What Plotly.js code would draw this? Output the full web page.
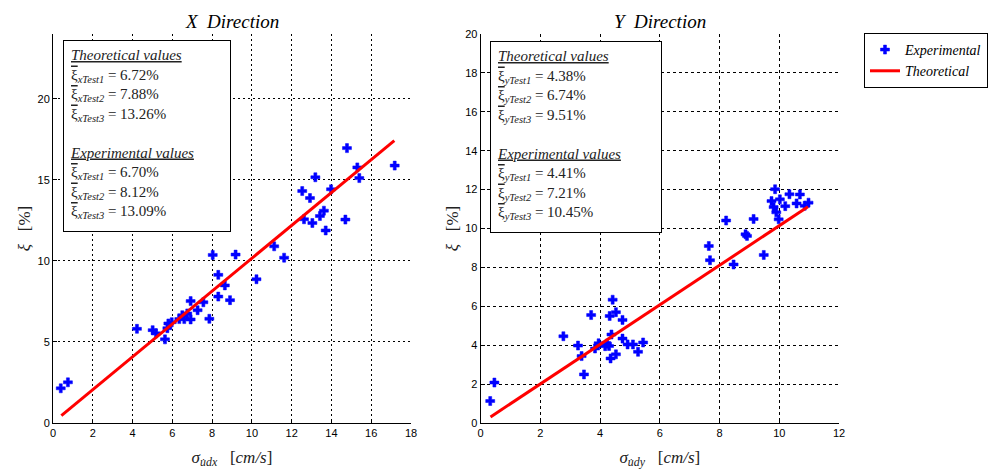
<!DOCTYPE html>
<html>
<head>
<meta charset="utf-8">
<script src="https://cdn.plot.ly/plotly-3.0.1.min.js"></script>
<style>html,body{margin:0;padding:0;background:#fff;}#chart{width:992px;height:471px;}</style>
</head>
<body>
<div id="chart"></div>
<script>
// X direction experimental points
const expXx = [0.39,0.75,4.22,5.01,5.18,5.63,5.75,5.80,5.97,6.35,6.50,6.60,6.75,6.92,6.92,7.27,7.56,7.86,8.03,8.31,8.31,8.64,8.90,9.18,10.23,11.12,11.62,12.53,12.62,12.92,13.04,13.19,13.42,13.62,13.71,13.98,14.70,14.78,15.30,15.40,17.18];
const expXy = [2.14,2.51,5.81,5.73,5.53,5.16,5.85,6.14,6.22,6.41,6.65,6.41,6.76,6.39,7.52,6.96,7.45,6.43,10.37,9.14,7.80,8.49,7.58,10.39,8.87,10.90,10.20,14.31,12.57,13.88,12.34,15.16,12.77,13.10,11.88,14.42,12.55,16.96,15.77,15.11,15.88];
// X direction theoretical line
const thXx = [0.42, 17.16];
const thXy = [0.45, 17.42];
// Y direction experimental points
const expYx = [0.32,0.46,2.77,3.26,3.38,3.46,3.70,3.83,3.95,4.17,4.23,4.30,4.32,4.35,4.38,4.42,4.53,4.53,4.75,4.75,4.92,5.10,5.27,5.44,7.64,7.68,8.22,8.47,8.87,8.92,9.14,9.48,9.74,9.81,9.86,9.90,9.98,10.02,10.20,10.34,10.58,10.69,10.85,10.98];
const expYy = [1.13,2.08,4.46,3.98,3.44,2.50,5.55,3.83,4.10,3.95,4.08,3.96,5.50,3.32,4.55,6.34,5.70,3.53,5.30,4.34,4.04,4.04,3.66,4.14,9.10,8.37,10.41,8.15,9.70,9.62,10.49,8.64,11.41,11.10,12.02,10.83,10.47,11.50,11.15,11.76,11.29,11.75,11.17,11.33];
// Y direction theoretical line
const thYx = [0.33, 10.96];
const thYy = [0.31, 11.12];
// Tick values
const xTicksL = [0,2,4,6,8,10,12,14,16,18];
const yTicksL = [0,5,10,15,20];
const xTicksR = [0,2,4,6,8,10,12];
const yTicksR = [0,2,4,6,8,10,12,14,16,18,20];
// Box texts
const theoX = ["6.72%","7.88%","13.26%"];
const experX = ["6.70%","8.12%","13.09%"];
const theoY = ["4.38%","6.74%","9.51%"];
const experY = ["4.41%","7.21%","10.45%"];

const serif = "Liberation Serif, Times New Roman, serif";
const sans = "Liberation Sans, Arial, sans-serif";

function boxText(dir, theo, exper){
  const ul = s => "<i><span style='text-decoration:underline'>" + s + "</span></i>";
  const line = (i, v) => "<span style='text-decoration:overline'>\u03BE</span><sub><i>" + dir + "Test" + (i+1) + "</i></sub> = " + v;
  let t = ul("Theoretical values") + "<br>";
  t += theo.map((v,i)=>line(i,v)).join("<br>");
  t += "<br> <br>" + ul("Experimental values") + "<br>";
  t += exper.map((v,i)=>line(i,v)).join("<br>");
  return t;
}

const mk = {symbol:'cross', size:7.5, color:'#0000ff', line:{width:0.5, color:'#0000ff'}};
const traces = [
  {x: expXx, y: expXy, type:'scatter', mode:'markers', marker:mk, name:'Experimental', xaxis:'x', yaxis:'y', showlegend:true},
  {x: thXx, y: thXy, type:'scatter', mode:'lines', line:{color:'#ff0000', width:3}, name:'Theoretical', xaxis:'x', yaxis:'y', showlegend:true},
  {x: expYx, y: expYy, type:'scatter', mode:'markers', marker:mk, name:'Experimental', xaxis:'x2', yaxis:'y2', showlegend:false},
  {x: thYx, y: thYy, type:'scatter', mode:'lines', line:{color:'#ff0000', width:3}, name:'Theoretical', xaxis:'x2', yaxis:'y2', showlegend:false}
];

function ax(extra){
  return Object.assign({
    showline:true, linecolor:'#000', linewidth:1, mirror:false,
    ticks:'inside', ticklen:4, tickcolor:'#000', tickwidth:1,
    showgrid:true, gridcolor:'#000', gridwidth:1,
    zeroline:false, tickfont:{family:sans, size:11, color:'#000'},
    fixedrange:true
  }, extra);
}

const layout = {
  width:992, height:471,
  margin:{l:53, r:153, t:34, b:48, autoexpand:false},
  paper_bgcolor:'#fff', plot_bgcolor:'#fff',
  showlegend:true,
  legend:{x:1.0318, y:1.0026, xanchor:'left', yanchor:'top', bgcolor:'#fff', bordercolor:'#000', borderwidth:1,
    font:{family:serif, size:14, style:'italic', color:'#000'}, tracegroupgap:0},
  xaxis: ax({domain:[0,0.4555], range:[0,18], tickvals:xTicksL, griddash:'2px,3px', anchor:'y',
    title:{text:"<i>\u03C3<sub>u\u0307dx</sub></i>   [<i>cm/s</i>]", font:{family:serif, size:17, color:'#222'}, standoff:12}}),
  yaxis: ax({domain:[0,1], range:[0,24], tickvals:yTicksL, griddash:'2px,3px', anchor:'x',
    title:{text:"<i>\u03BE</i>   [%]", font:{family:serif, size:17, color:'#222'}, standoff:2}}),
  xaxis2: ax({domain:[0.5441,1], range:[0,12], tickvals:xTicksR, griddash:'3px,3px', anchor:'y2',
    title:{text:"<i>\u03C3<sub>u\u0307dy</sub></i>   [<i>cm/s</i>]", font:{family:serif, size:17, color:'#222'}, standoff:12}}),
  yaxis2: ax({domain:[0,1], range:[0,20], tickvals:yTicksR, griddash:'3px,3px', anchor:'x2',
    title:{text:"<i>\u03BE</i>   [%]", font:{family:serif, size:17, color:'#222'}, standoff:2}}),
  annotations:[
    {text:"<i>X  Direction</i>", xref:'paper', yref:'paper', x:0.2277, y:1.0334, xanchor:'center', yanchor:'middle', showarrow:false, font:{family:serif, size:19, color:'#000'}},
    {text:"<i>Y  Direction</i>", xref:'paper', yref:'paper', x:0.7720, y:1.0334, xanchor:'center', yanchor:'middle', showarrow:false, font:{family:serif, size:19, color:'#000'}},
    {text: boxText('x', theoX, experX), xref:'paper', yref:'paper', x:0.0127, y:0.9846, xanchor:'left', yanchor:'top', align:'left', valign:'top', showarrow:false,
      bgcolor:'#fff', bordercolor:'#000', borderwidth:1, borderpad:6, width:154, height:178, font:{family:serif, size:15, color:'#222'}},
    {text: boxText('y', theoY, experY), xref:'paper', yref:'paper', x:0.5560, y:0.9820, xanchor:'left', yanchor:'top', align:'left', valign:'top', showarrow:false,
      bgcolor:'#fff', bordercolor:'#000', borderwidth:1, borderpad:6, width:158, height:178, font:{family:serif, size:15, color:'#222'}}
  ]
};

Plotly.newPlot('chart', traces, layout, {displayModeBar:false, staticPlot:true});
</script>
</body>
</html>
